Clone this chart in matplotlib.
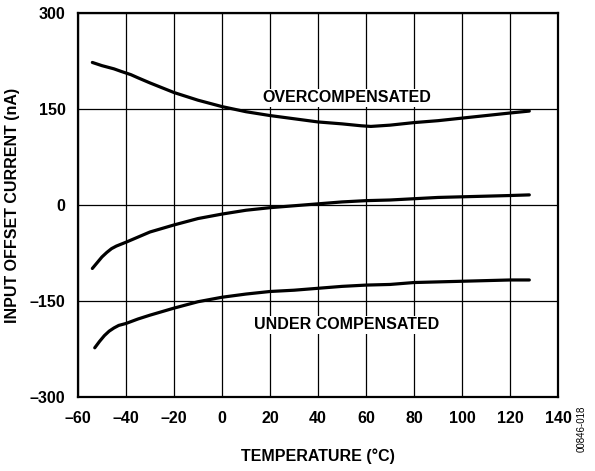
import numpy as np
import matplotlib
matplotlib.use('Agg')
import matplotlib.pyplot as plt

plt.rcParams['font.family'] = ['Liberation Sans', 'DejaVu Sans']
plt.rcParams['font.weight'] = 'bold'

# curves
temp_over = [-54, -50, -45, -42, -38, -35, -30, -20, -10, 0, 10, 20, 30, 40, 50, 58, 62, 66, 70, 80, 90, 100, 110, 120, 128]
i_over = [223, 218, 213, 209, 204, 199, 191, 176, 164, 154, 146, 140, 135, 130, 127, 124, 123, 124, 125, 129, 132, 136, 140, 144, 147]

temp_mid = [-54, -52, -50, -48, -46, -44, -40, -35, -30, -20, -10, 0, 10, 20, 30, 40, 50, 60, 70, 80, 90, 100, 110, 120, 128]
i_mid = [-99, -90, -81, -74, -68, -64, -58, -50, -42, -31, -21, -14, -8, -4, -1, 2, 5, 7, 8, 10, 12, 13, 14, 15, 16]

temp_under = [-53, -51, -49, -47, -45, -43, -40, -35, -30, -20, -10, 0, 10, 20, 30, 40, 50, 60, 70, 80, 90, 100, 110, 120, 128]
i_under = [-223, -213, -204, -197, -192, -188, -185, -178, -172, -161, -151, -144, -139, -135, -133, -130, -127, -125, -124, -121, -120, -119, -118, -117, -117]

xticks = [-60, -40, -20, 0, 20, 40, 60, 80, 100, 120, 140]
yticks = [-300, -150, 0, 150, 300]

fig = plt.figure(figsize=(5.95, 4.71), dpi=100)
ax = fig.add_axes([0.131, 0.157, 0.807, 0.815])

for t, i in [(temp_over, i_over), (temp_mid, i_mid), (temp_under, i_under)]:
    ax.plot(t, i, color='black', linewidth=2.3, solid_capstyle='round',
            solid_joinstyle='round', zorder=3)

ax.set_xlim(-60, 140)
ax.set_ylim(-300, 300)
ax.set_xticks(xticks)
ax.set_yticks(yticks)
ax.set_xticklabels([str(v).replace('-', '\u2013') for v in xticks])
ax.set_yticklabels([str(v).replace('-', '\u2013') for v in yticks])
ax.grid(True, color='black', linewidth=0.9)
ax.tick_params(length=0, labelsize=11.5)
ax.tick_params(axis='x', pad=10)
ax.tick_params(axis='y', pad=9)
for s in ax.spines.values():
    s.set_linewidth(1.6)

ax.text(52, 168, 'OVERCOMPENSATED', ha='center', va='center', fontsize=11.5,
        fontweight='bold', bbox=dict(facecolor='white', edgecolor='none', pad=1), zorder=2)
ax.text(52, -187, 'UNDER COMPENSATED', ha='center', va='center', fontsize=11.5,
        fontweight='bold', bbox=dict(facecolor='white', edgecolor='none', pad=1), zorder=2)

ax.set_xlabel('TEMPERATURE (°C)', fontsize=11.5, fontweight='bold', labelpad=16)
ax.set_ylabel('INPUT OFFSET CURRENT (nA)', fontsize=11.5, fontweight='bold', labelpad=7)

fig.text(0.977, 0.09, '00846-018', rotation=90, fontsize=7, fontweight='normal',
         ha='center', va='center')

plt.savefig('out.png', dpi=100)
